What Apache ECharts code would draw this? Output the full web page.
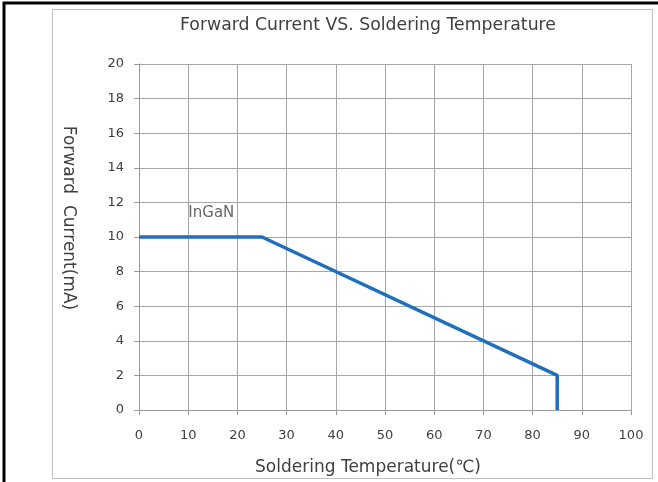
<!DOCTYPE html>
<html><head><meta charset="utf-8">
<script src="https://cdn.jsdelivr.net/npm/echarts@6/dist/echarts.min.js"></script>
<style>html,body{margin:0;padding:0;background:#fff}#c{width:658px;height:482px}</style>
</head><body><div id="c"></div>
<script>
const temperature = [0, 25, 85, 85];
const current = [10, 10, 2, 0];
const seriesName = 'InGaN';
const labelPos = [14.7, 11.4];
const titleText = 'Forward Current VS. Soldering Temperature';
const xName = 'Soldering Temperature(℃)';
const yName = 'Forward  Current(mA)';

const chart = echarts.init(document.getElementById('c'));
const font = '"DejaVu Sans", sans-serif';
const txt = '#404040';
chart.setOption({
  animation: false,
  textStyle: {fontFamily: font},
  graphic: [
    {type: 'rect', shape: {x: 4, y: 3, width: 700, height: 600}, style: {fill: 'none', stroke: '#000', lineWidth: 3}},
    {type: 'rect', shape: {x: 52.5, y: 9.5, width: 600, height: 469}, style: {fill: 'none', stroke: '#bfbfbf', lineWidth: 1}}
  ],
  title: {text: titleText, left: 363, top: 12, textAlign: 'center',
    textStyle: {fontFamily: font, fontSize: 17.3, fontWeight: 'normal', color: txt}},
  grid: {left: 139, right: 27, top: 64, bottom: 72},
  xAxis: {type: 'value', min: 0, max: 100, interval: 10,
    name: xName, nameLocation: 'middle', nameGap: 49,
    nameTextStyle: {fontFamily: font, fontSize: 17, color: txt, padding: [0, 34, 0, 0]},
    axisLine: {lineStyle: {color: '#9a9a9a'}},
    axisTick: {show: true, length: 5, lineStyle: {color: '#9a9a9a'}},
    axisLabel: {margin: 19, fontFamily: font, fontSize: 13, color: txt},
    splitLine: {lineStyle: {color: '#a6a6a6', width: 1}}},
  yAxis: {type: 'value', min: 0, max: 20, interval: 2,
    name: yName, nameLocation: 'middle', nameRotate: -90, nameGap: 62,
    nameTextStyle: {fontFamily: font, fontSize: 17, color: txt, padding: [0, 38, 0, 0]},
    axisLine: {show: true, lineStyle: {color: '#9a9a9a'}},
    axisTick: {show: true, length: 5, lineStyle: {color: '#9a9a9a'}},
    axisLabel: {margin: 15, fontFamily: font, fontSize: 13, color: txt},
    splitLine: {lineStyle: {color: '#a6a6a6', width: 1}}},
  series: [
    {type: 'line', name: seriesName, data: temperature.map((t, i) => [t, current[i]]),
      symbol: 'none', lineStyle: {color: '#1f6fbf', width: 3.5}},
    {type: 'scatter', data: [labelPos], symbolSize: 0,
      label: {show: true, position: 'inside', formatter: seriesName, fontFamily: font, fontSize: 15, color: txt}}
  ]
});
</script></body></html>
